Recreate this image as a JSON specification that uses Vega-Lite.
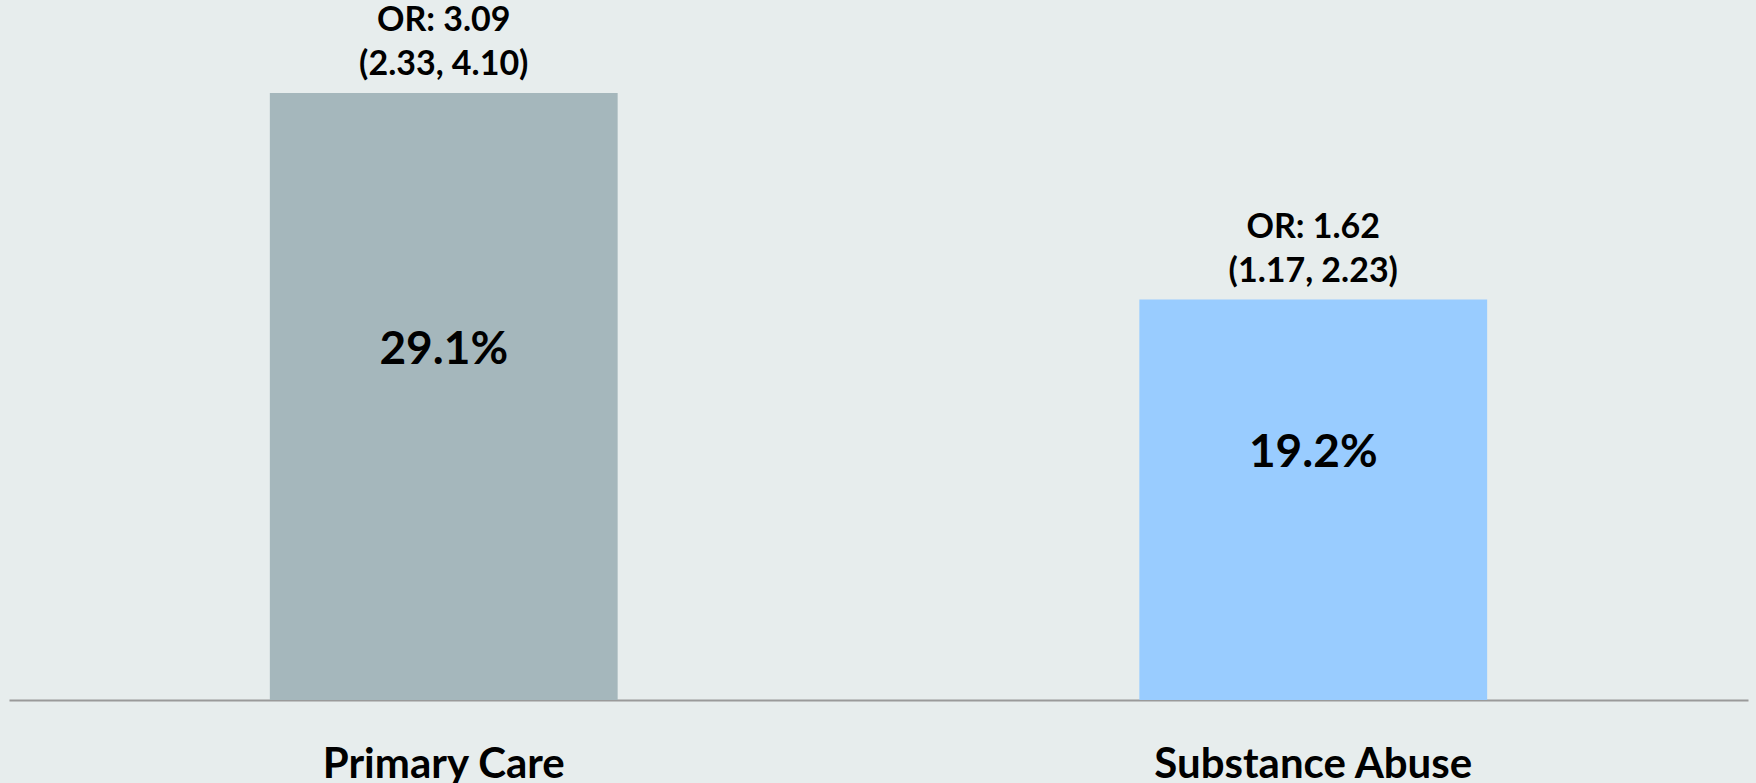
{
  "$schema": "https://vega.github.io/schema/vega-lite/v6.json",
  "width": 1739,
  "height": 700,
  "autosize": {"type": "none"},
  "padding": {"left": 9, "top": 0, "right": 8, "bottom": 83},
  "background": "#E7EDED",
  "config": {"view": {"stroke": null}, "font": "Lato"},
  "data": {
    "values": [
      {"setting": "Primary Care", "pct": 29.1, "label": "29.1%", "or": "OR: 3.09", "ci": "(2.33, 4.10)", "color": "#A5B7BC"},
      {"setting": "Substance Abuse", "pct": 19.2, "label": "19.2%", "or": "OR: 1.62", "ci": "(1.17, 2.23)", "color": "#99CCFF"}
    ]
  },
  "transform": [{"calculate": "datum.pct / 2", "as": "mid"}],
  "encoding": {
    "x": {
      "field": "setting",
      "type": "nominal",
      "sort": null,
      "scale": {"paddingInner": 0.6, "paddingOuter": 0.3},
      "axis": {
        "title": null,
        "labelAngle": 0,
        "labelFont": "Lato",
        "labelFontWeight": "bold",
        "labelFontSize": 42,
        "labelLimit": 0,
        "labelColor": "#000000",
        "labelBaseline": "alphabetic",
        "labelPadding": 77,
        "ticks": false,
        "tickSize": 0,
        "domainColor": "#9A9A9A",
        "domainWidth": 2,
        "grid": false
      }
    }
  },
  "layer": [
    {
      "mark": {"type": "bar"},
      "encoding": {
        "y": {"field": "pct", "type": "quantitative", "scale": {"domain": [0, 33.56], "nice": false}, "axis": null},
        "color": {"field": "color", "type": "nominal", "scale": null, "legend": null}
      }
    },
    {
      "mark": {"type": "text", "font": "Lato", "fontWeight": "bold", "fontSize": 46, "baseline": "middle", "dy": -47, "color": "#000000"},
      "encoding": {
        "y": {"field": "mid", "type": "quantitative"},
        "text": {"field": "label"}
      }
    },
    {
      "mark": {"type": "text", "font": "Lato", "fontWeight": "bold", "fontSize": 34, "baseline": "alphabetic", "dy": -62, "color": "#000000"},
      "encoding": {
        "y": {"field": "pct", "type": "quantitative"},
        "text": {"field": "or"}
      }
    },
    {
      "mark": {"type": "text", "font": "Lato", "fontWeight": "bold", "fontSize": 34, "baseline": "alphabetic", "dy": -18, "color": "#000000"},
      "encoding": {
        "y": {"field": "pct", "type": "quantitative"},
        "text": {"field": "ci"}
      }
    }
  ]
}
